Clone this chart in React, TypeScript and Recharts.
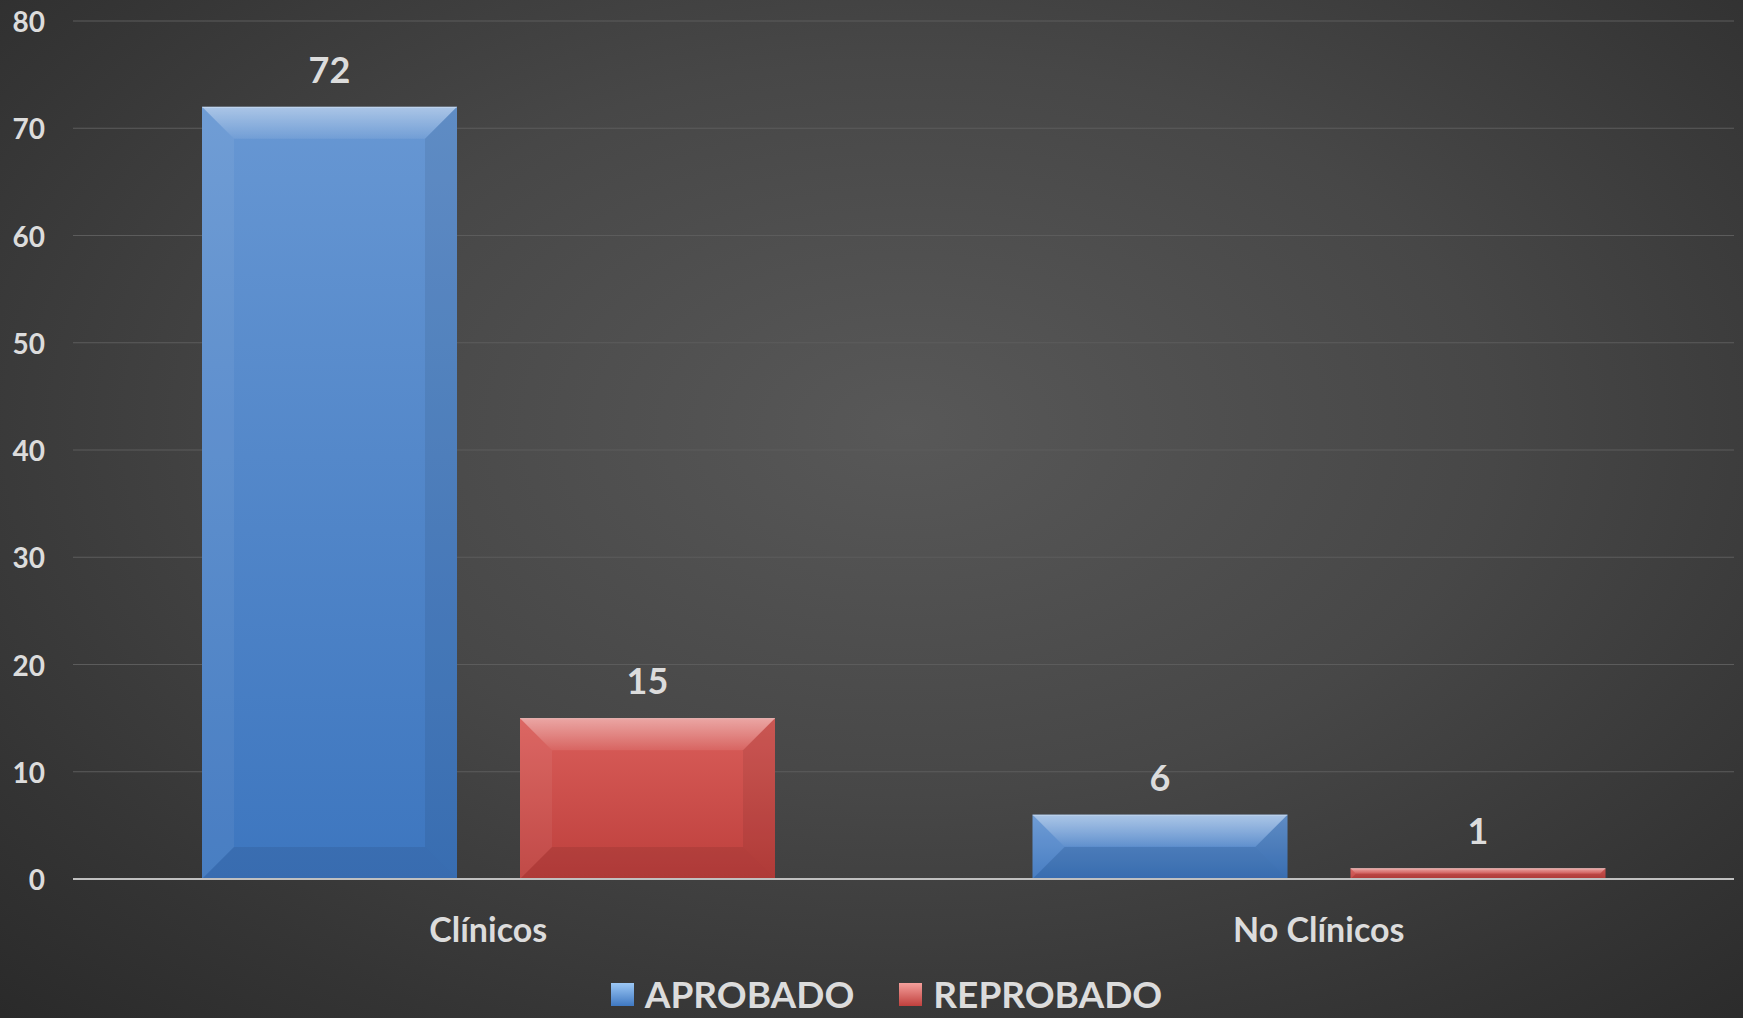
import React from 'react';
import { BarChart, Bar, XAxis, YAxis, CartesianGrid, Legend, LabelList } from 'recharts';

const categories = ['Clínicos', 'No Clínicos'];
const aprobado = [72, 6];
const reprobado = [15, 1];
const yTicks = [0, 10, 20, 30, 40, 50, 60, 70, 80];
const seriesNames = ['APROBADO', 'REPROBADO'];

const data = categories.map((c, i) => ({ name: c, aprobado: aprobado[i], reprobado: reprobado[i] }));

const FONT = 'Lato, "Open Sans", sans-serif';
const TEXT = '#dcdcdc';

const makeBevel = (gradId: string) => (props: any) => {
  const { x, y, width, height } = props;
  if (!height || height <= 0) return null;
  const b = Math.min(32, height / 2, width / 2);
  const x2 = x + width;
  const y2 = y + height;
  return (
    <g>
      <rect x={x} y={y} width={width} height={height} fill={`url(#${gradId})`} />
      <polygon points={`${x},${y} ${x2},${y} ${x2 - b},${y + b} ${x + b},${y + b}`} fill="url(#gTopBevel)" />
      <polygon points={`${x},${y} ${x + b},${y + b} ${x + b},${y2 - b} ${x},${y2}`} fill="#ffffff" fillOpacity={0.06} />
      <polygon points={`${x2},${y} ${x2 - b},${y + b} ${x2 - b},${y2 - b} ${x2},${y2}`} fill="#000000" fillOpacity={0.07} />
      <polygon points={`${x},${y2} ${x + b},${y2 - b} ${x2 - b},${y2 - b} ${x2},${y2}`} fill="#000000" fillOpacity={0.08} />
      <line x1={x} y1={y + 0.5} x2={x2} y2={y + 0.5} stroke="#ffffff" strokeOpacity={0.3} strokeWidth={1} />
    </g>
  );
};

const BlueBar = makeBevel('gBlue');
const RedBar = makeBevel('gRed');

const ValueLabel = (props: any) => {
  const { x, y, width, value } = props;
  return (
    <text x={x + width / 2} y={y - 38} textAnchor="middle" dominantBaseline="central"
      fill={TEXT} fontFamily={FONT} fontWeight={700} fontSize={36}>
      {value}
    </text>
  );
};

const XTick = (props: any) => {
  const { x, y, payload } = props;
  return (
    <text x={x} y={y + 41} textAnchor="middle" dominantBaseline="central"
      fill={TEXT} fontFamily={FONT} fontWeight={700} fontSize={34}>
      {payload.value}
    </text>
  );
};

const YTick = (props: any) => {
  const { y, payload } = props;
  return (
    <text x={45} y={y} textAnchor="end" dominantBaseline="central"
      fill={TEXT} fontFamily={FONT} fontWeight={700} fontSize={28}>
      {payload.value}
    </text>
  );
};

const legendColors = [
  ['#9cc8f5', '#3f78c2'],
  ['#f5a09c', '#c0403d'],
];

const LegendContent = () => (
  <div style={{ width: 1743, height: 40, display: 'flex', justifyContent: 'center', alignItems: 'center', paddingLeft: 30, boxSizing: 'border-box' }}>
    {seriesNames.map((n, i) => (
      <div key={n} style={{ display: 'flex', alignItems: 'center', marginRight: i === 0 ? 45 : 0 }}>
        <div style={{ width: 23, height: 23, background: `linear-gradient(${legendColors[i][0]}, ${legendColors[i][1]})`, marginRight: 11 }} />
        <span style={{ fontFamily: FONT, fontWeight: 700, fontSize: 37, color: TEXT, lineHeight: '36px' }}>{n}</span>
      </div>
    ))}
  </div>
);

export default function App() {
  return (
    <div style={{
      position: 'absolute', left: 0, top: 0, width: 1743, height: 1018, overflow: 'hidden',
      background: 'radial-gradient(ellipse 75% 80% at 52% 42%, #585858 0%, #474747 45%, #343434 80%, #2a2a2a 100%)',
    }}>
      <BarChart width={1743} height={1018} data={data}
        margin={{ top: 21, right: 9, bottom: 4, left: 0 }}
        barCategoryGap={129} barGap={63}>
        <defs>
          <linearGradient id="gBlue" x1="0" y1="0" x2="0" y2="1">
            <stop offset="0%" stopColor="#6797d3" />
            <stop offset="100%" stopColor="#3d76bf" />
          </linearGradient>
          <linearGradient id="gRed" x1="0" y1="0" x2="0" y2="1">
            <stop offset="0%" stopColor="#da5e5a" />
            <stop offset="100%" stopColor="#bd3f3c" />
          </linearGradient>
          <linearGradient id="gTopBevel" x1="0" y1="0" x2="0" y2="1">
            <stop offset="0%" stopColor="#ffffff" stopOpacity={0.45} />
            <stop offset="100%" stopColor="#ffffff" stopOpacity={0.08} />
          </linearGradient>
        </defs>
        <CartesianGrid vertical={false} stroke="#5c5c5c" strokeWidth={1} />
        <XAxis dataKey="name" height={95} tickLine={false} axisLine={{ stroke: '#c0c0c0', strokeWidth: 2 }} tick={<XTick />} interval={0} />
        <YAxis width={73} domain={[0, 80]} ticks={yTicks} axisLine={false} tickLine={false} tickMargin={0} tick={<YTick />} />
        <Legend verticalAlign="bottom" align="left" content={<LegendContent />} wrapperStyle={{ left: 0, width: 1743 }} />
        <Bar dataKey="aprobado" name={seriesNames[0]} fill="#4a85cc" shape={BlueBar} isAnimationActive={false}>
          <LabelList dataKey="aprobado" content={<ValueLabel />} />
        </Bar>
        <Bar dataKey="reprobado" name={seriesNames[1]} fill="#d0504d" shape={RedBar} isAnimationActive={false}>
          <LabelList dataKey="reprobado" content={<ValueLabel />} />
        </Bar>
      </BarChart>
    </div>
  );
}
